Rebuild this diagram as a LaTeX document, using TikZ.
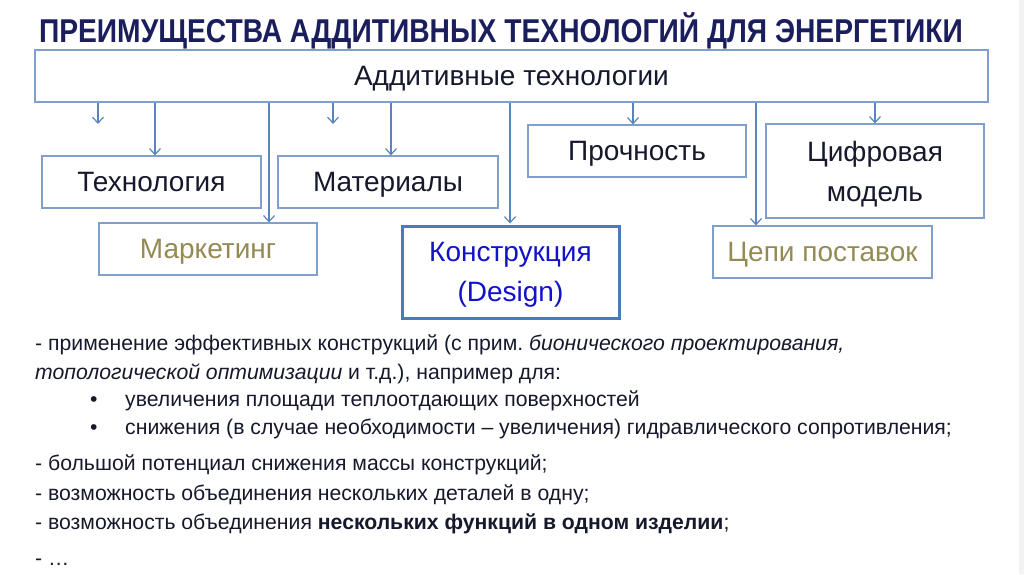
\documentclass[tikz,border=0pt]{standalone}
\usepackage{fontspec}
\setmainfont{Liberation Sans}
\newfontfamily\titlefont[FakeStretch=0.855]{Liberation Sans}
\usetikzlibrary{arrows.meta}
\definecolor{titlecol}{HTML}{1B1E5C}
\definecolor{txt}{HTML}{16192B}
\definecolor{boxline}{HTML}{819FCC}
\definecolor{arrcol}{HTML}{5A84BE}
\definecolor{olive}{HTML}{948A54}
\definecolor{kblue}{HTML}{1212C8}
\definecolor{kline}{HTML}{4F79B5}
\tikzset{
  boxnode/.style={draw=boxline, line width=1.2pt, inner sep=0pt, align=center,
    text=txt, text depth=0pt, font=\fontsize{28}{40}\selectfont},
  arr/.style={draw=arrcol, line width=1.2pt, -{Straight Barb[length=6pt,width=11pt]}},
  bodytext/.style={anchor=base west, inner sep=0pt, text=txt, font=\fontsize{21.2}{25}\selectfont},
}
\begin{document}
\frenchspacing
\begin{tikzpicture}[x=1pt,y=-1pt]
\useasboundingbox (0,0) rectangle (1024,574);
\fill[white] (0,0) rectangle (1024,574);
\fill[black!5] (1019,0) rectangle (1024,574);

% title
\node[anchor=base, inner sep=0pt, text=titlecol, font=\titlefont\bfseries\fontsize{33}{36}\selectfont]
  (title) at (501,42) {ПРЕИМУЩЕСТВА АДДИТИВНЫХ ТЕХНОЛОГИЙ ДЛЯ ЭНЕРГЕТИКИ};

% boxes
\node[boxnode, minimum width=953pt, minimum height=52pt] (top) at (511.5,76) {Аддитивные технологии};
\node[boxnode, minimum width=219pt, minimum height=52pt] (tech) at (151.5,182) {Технология};
\node[boxnode, minimum width=220pt, minimum height=52pt] (mat) at (388,182) {Материалы};
\node[boxnode, minimum width=218pt, minimum height=52pt, text=olive] (mark) at (208,249) {Маркетинг};
\node[boxnode, draw=kline, line width=3pt, minimum width=217pt, minimum height=92pt, text=kblue] (konst) at (510.5,272) {Конструкция\\(Design)};
\node[boxnode, minimum width=218pt, minimum height=52pt] (proch) at (637,151) {Прочность};
\node[boxnode, minimum width=218pt, minimum height=94pt] (cifr) at (875,171) {Цифровая\\модель};
\node[boxnode, minimum width=219pt, minimum height=52pt, text=olive] (cepi) at (822.5,252) {Цепи поставок};

% helper x positions
\coordinate (x1) at (98,0);
\coordinate (x2) at (155,0);
\coordinate (x3) at (269,0);
\coordinate (x4) at (333,0);
\coordinate (x5) at (391,0);
\coordinate (x6) at (510,0);
\coordinate (x7) at (633,0);
\coordinate (x8) at (756,0);
\coordinate (x9) at (875,0);
\coordinate (e1) at (98,124);
\coordinate (e4) at (333,124);

% connectors
\draw[arr] (top.south -| x1) -- (e1);
\draw[arr] (top.south -| x2) -- (tech.north -| x2);
\draw[arr] (top.south -| x3) -- (mark.north -| x3);
\draw[arr] (top.south -| x4) -- (e4);
\draw[arr] (top.south -| x5) -- (mat.north -| x5);
\draw[arr, shorten >=1pt] (top.south -| x6) -- (konst.north -| x6);
\draw[arr] (top.south -| x7) -- (proch.north -| x7);
\draw[arr] (top.south -| x8) -- (cepi.north -| x8);
\draw[arr] (top.south -| x9) -- (cifr.north -| x9);

% body text
\node[bodytext] (l1) at (35,350) {- применение эффективных конструкций (с прим. \textit{бионического проектирования,}};
\node[bodytext] (l2) at (35,379) {\textit{топологической оптимизации} и т.д.), например для:};
\node[bodytext] (b1) at (90,406) {•};
\node[bodytext] (l3) at (125,406) {увеличения площади теплоотдающих поверхностей};
\node[bodytext] (b2) at (90,434) {•};
\node[bodytext] (l4) at (125,434) {снижения (в случае необходимости – увеличения) гидравлического сопротивления;};
\node[bodytext] (l5) at (35,470) {- большой потенциал снижения массы конструкций;};
\node[bodytext] (l6) at (35,500) {- возможность объединения нескольких деталей в одну;};
\node[bodytext] (l7) at (35,529) {- возможность объединения \textbf{нескольких функций в одном изделии};};
\node[bodytext] (l8) at (35,565) {- …};
\end{tikzpicture}
\end{document}
